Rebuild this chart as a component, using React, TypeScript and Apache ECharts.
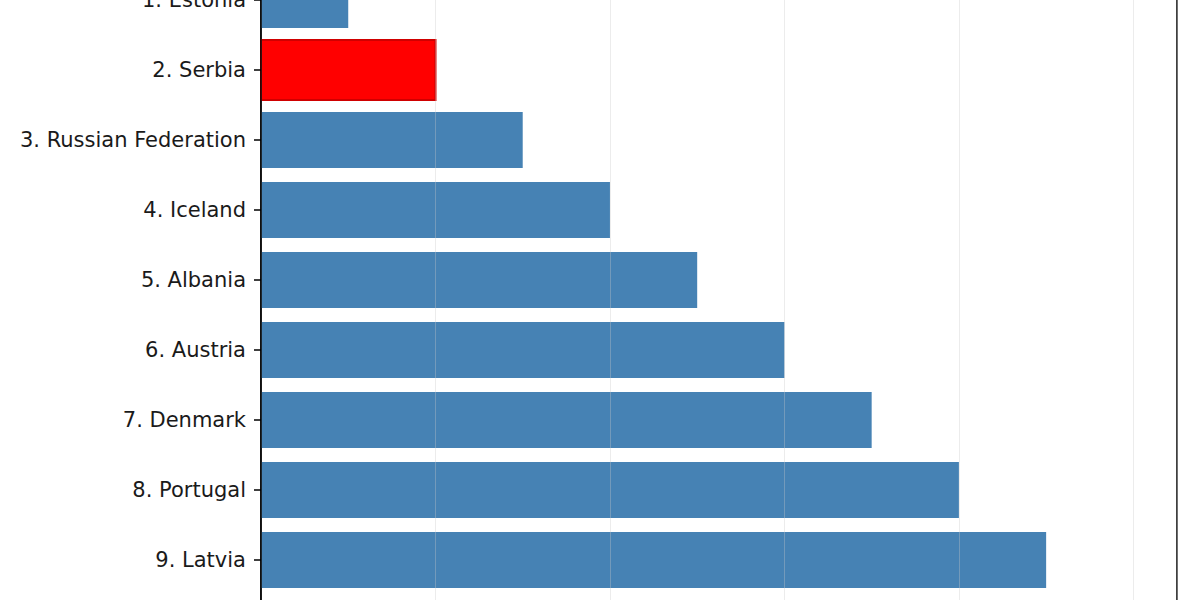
import { useEffect, useRef } from "react";
import * as echarts from "echarts";

const COUNTRIES = [
  "1. Estonia",
  "2. Serbia",
  "3. Russian Federation",
  "4. Iceland",
  "5. Albania",
  "6. Austria",
  "7. Denmark",
  "8. Portugal",
  "9. Latvia",
];

const VALUES = [1, 2, 3, 4, 5, 6, 7, 8, 9];

const HIGHLIGHT = "2. Serbia";

const BAR_COLOR = "#4682b4";
const HIGHLIGHT_COLOR = "#ff0000";

export default function App() {
  const chartRef = useRef<HTMLDivElement | null>(null);

  useEffect(() => {
    const el = chartRef.current;
    if (!el) {
      return;
    }

    const chart = echarts.init(el, null, { renderer: "svg" });
    const ticks = COUNTRIES.map((_, i) => i);

    chart.setOption({
      animation: false,
      backgroundColor: "#ffffff",
      grid: {
        left: 261,
        right: 23,
        top: -58.8,
        bottom: -18.8,
        outerBoundsMode: "none",
        containLabel: false,
        show: true,
        borderColor: "#000000",
        borderWidth: 1.5,
        backgroundColor: "transparent",
      },
      xAxis: {
        type: "value",
        min: 0,
        max: 10.5,
        interval: 2,
        z: 3,
        axisLine: { show: false },
        axisTick: { show: false },
        axisLabel: { show: false },
        splitLine: {
          show: true,
          lineStyle: { color: "rgba(200,200,200,0.35)", width: 1 },
        },
      },
      yAxis: {
        type: "value",
        inverse: true,
        min: -0.84,
        max: 8.84,
        z: 4,
        axisLine: {
          show: true,
          lineStyle: { color: "#000000", width: 1.5 },
        },
        axisTick: {
          show: true,
          length: 7,
          customValues: ticks,
          lineStyle: { color: "#000000", width: 1.5 },
        },
        axisLabel: {
          show: true,
          customValues: ticks,
          margin: 15,
          color: "#1a1a1a",
          fontFamily: "DejaVu Sans",
          fontSize: 21,
          formatter: (v: number) => COUNTRIES[Math.round(v)] ?? "",
        },
        splitLine: { show: false },
      },
      series: [
        {
          type: "custom",
          z: 2,
          data: VALUES.map((v, i) => [v, i]),
          encode: { x: 0, y: 1 },
          renderItem: (_params: unknown, api: any) => {
            const idx = api.value(1);
            const val = api.value(0);
            const hi = COUNTRIES[idx] === HIGHLIGHT;
            const half = hi ? 0.43 : 0.4;
            const p0 = api.coord([0, idx - half]);
            const p1 = api.coord([val, idx + half]);
            return {
              type: "rect",
              shape: {
                x: p0[0],
                y: Math.min(p0[1], p1[1]),
                width: p1[0] - p0[0],
                height: Math.abs(p1[1] - p0[1]),
              },
              style: {
                fill: hi ? HIGHLIGHT_COLOR : BAR_COLOR,
                stroke: hi ? "#d00000" : null,
                lineWidth: hi ? 2 : 0,
              },
            };
          },
        },
      ],
    });

    return () => {
      chart.dispose();
    };
  }, []);

  return (
    <div
      ref={chartRef}
      style={{ position: "fixed", left: 0, top: 0, width: 1200, height: 600 }}
    />
  );
}
